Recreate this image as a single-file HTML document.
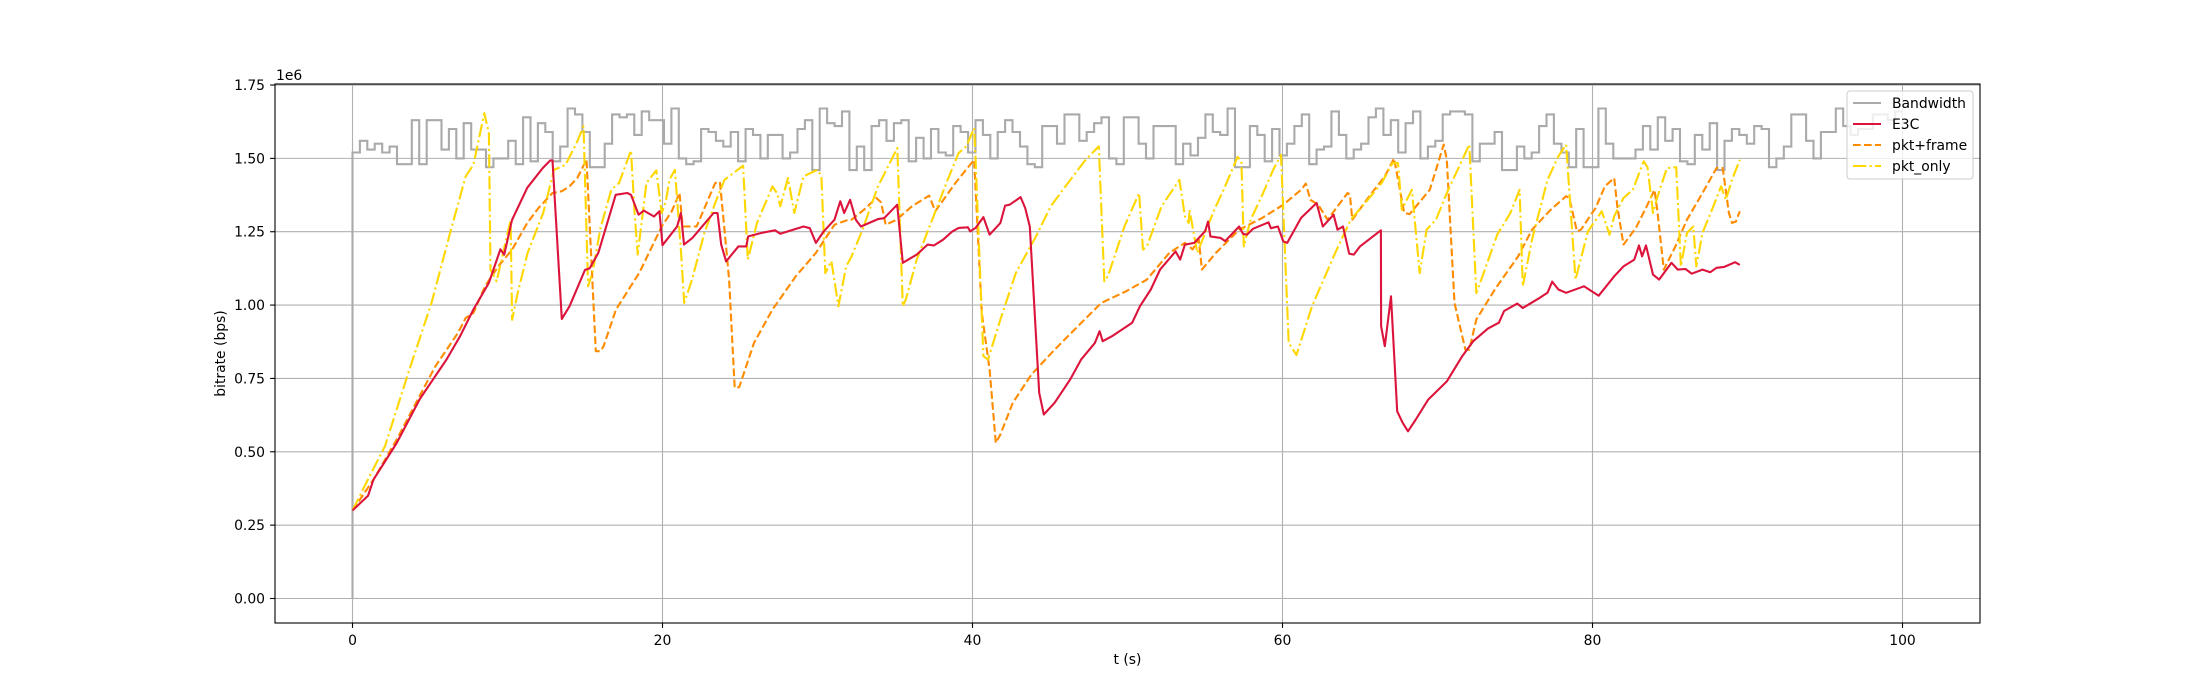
<!DOCTYPE html>
<html><head><meta charset="utf-8"><style>
html,body{margin:0;padding:0;background:#fff;}
svg{display:block;font-family:"DejaVu Sans","Liberation Sans",sans-serif;}
</style></head><body>
<svg id="chart" width="2200" height="700" viewBox="0 0 2200 700" xmlns="http://www.w3.org/2000/svg">
<rect x="0" y="0" width="2200" height="700" fill="#fff"/>
<g id="grid"></g>
<g id="series" clip-path="url(#clip)"></g>
<defs><clipPath id="clip"><rect x="275" y="84" width="1705" height="539"/></clipPath></defs>
<rect x="275" y="84" width="1705" height="539" fill="none" stroke="#000" stroke-width="1.1"/>
<g id="ticks"></g>
<text x="276" y="80" font-size="13.9">1e6</text>
<text x="1127.5" y="664" font-size="13.9" text-anchor="middle">t (s)</text>
<text transform="translate(225,353.5) rotate(-90)" font-size="13.9" text-anchor="middle">bitrate (bps)</text>
<g>
<rect x="1847" y="91" width="126" height="88" rx="3" fill="#fff" fill-opacity="0.8" stroke="#ccc" stroke-width="1"/>
<line x1="1853" y1="103" x2="1881" y2="103" stroke="#aaaaaa" stroke-width="2.1"/>
<text x="1892" y="108" font-size="13.9">Bandwidth</text>
<line x1="1853" y1="124" x2="1881" y2="124" stroke="#dc143c" stroke-width="2.1"/>
<text x="1892" y="129" font-size="13.9">E3C</text>
<line x1="1853" y1="145" x2="1881" y2="145" stroke="#ff8c00" stroke-width="2.1" stroke-dasharray="7.7 3.3"/>
<text x="1892" y="150" font-size="13.9">pkt+frame</text>
<line x1="1853" y1="166" x2="1881" y2="166" stroke="#ffd700" stroke-width="2.1" stroke-dasharray="13.3 3.3 2.1 3.3"/>
<text x="1892" y="171" font-size="13.9">pkt_only</text>
</g>
</svg>
<script>
const xTicks = [0, 20, 40, 60, 80, 100];
const yTicks = [0, 0.25, 0.5, 0.75, 1.0, 1.25, 1.5, 1.75];
const yTickLabels = ["0.00","0.25","0.50","0.75","1.00","1.25","1.50","1.75"];
const bwEnd = 100;
const bwValues = [1.52,1.56,1.53,1.55,1.52,1.54,1.48,1.48,1.63,1.48,1.63,1.63,1.53,1.60,1.50,1.62,1.53,1.53,1.47,1.50,1.50,1.56,1.48,1.64,1.49,1.62,1.59,1.49,1.54,1.67,1.65,1.59,1.47,1.47,1.55,1.65,1.64,1.65,1.58,1.66,1.63,1.63,1.55,1.67,1.50,1.48,1.49,1.60,1.59,1.56,1.54,1.59,1.49,1.60,1.58,1.50,1.58,1.58,1.50,1.52,1.60,1.63,1.46,1.67,1.62,1.61,1.66,1.46,1.54,
1.46,1.61,1.63,1.56,1.62,1.63,1.49,1.57,1.50,1.60,1.52,1.51,1.61,1.59,1.52,1.63,1.58,1.50,1.59,1.63,1.59,1.54,1.48,1.47,1.61,1.61,1.55,1.65,1.65,1.56,1.59,1.62,1.64,1.50,1.48,1.64,1.64,1.55,1.50,1.61,1.61,1.61,1.48,1.55,1.51,1.57,1.65,1.59,1.58,1.67,1.47,1.47,1.61,1.58,1.49,1.60,1.51,1.55,1.61,1.65,1.48,1.53,1.54,1.66,1.58,1.50,1.53,1.55,1.64,1.67,1.58,1.63,1.52,1.62,1.66,1.50,1.54,1.56,
1.65,1.66,1.66,1.65,1.49,1.55,1.55,1.59,1.46,1.46,1.54,1.50,1.52,1.61,1.65,1.55,1.52,1.47,1.60,1.47,1.47,1.67,1.55,1.50,1.50,1.50,1.53,1.61,1.53,1.64,1.56,1.60,1.49,1.48,1.58,1.53,1.62,1.46,1.56,1.60,1.58,1.55,1.61,1.60,1.47,1.50,1.54,1.65,1.65,1.56,1.50,1.59,1.59,1.67,1.61,
1.58,1.60,1.60,1.65,1.65,1.63,1.66];
const e3cT = [0,1,1.36,2.85,4.34,6.07,6.94,7.8,8.8,9.54,9.79,10.29,11.28,12.27,12.76,12.9,13.5,14.0,15.0,15.3,15.86,16.98,17.72,17.97,18.46,18.8,19.45,19.8,20.0,20.94,21.19,21.39,21.93,23.3,23.55,23.79,24.1,24.9,25.4,25.53,26.4,27.26,27.6,29.1,29.5,29.9,30.4,31.1,31.47,31.72,32.1,32.47,32.8,33.9,34.3,35.14,35.5,36.4,37.1,37.5,38.1,38.7,39.1,39.7,39.85,40.2,40.7,41.1,41.8,42.1,42.4,43.1,43.4,43.7,44.3,44.6,45.3,46.3,47.0,47.9,48.2,48.4,49.0,50.3,50.8,51.5,52.1,53.1,53.4,53.7,54.3,55.0,55.2,55.35,56.0,56.3,57.2,57.45,57.7,58.1,59.1,59.25,59.7,60.05,60.3,61.2,62.2,62.6,63.3,63.55,63.9,64.3,64.6,65.0,66.35,66.36,66.6,67.0,67.4,67.75,68.1,68.6,69.4,70.6,71.6,72.3,73.25,73.96,74.3,75.15,75.5,76.6,77.1,77.4,77.8,78.3,79.45,80.4,81.4,82.0,82.7,83.0,83.2,83.45,83.9,84.3,85.1,85.5,86.0,86.4,87.1,87.6,88.0,88.5,89.2,89.5];
const e3cV = [0.30,0.35,0.406,0.53,0.68,0.815,0.894,0.985,1.076,1.19,1.172,1.29,1.40,1.467,1.493,1.493,0.953,0.996,1.12,1.125,1.178,1.376,1.382,1.376,1.308,1.322,1.302,1.32,1.204,1.268,1.314,1.206,1.229,1.314,1.314,1.206,1.149,1.2,1.2,1.234,1.246,1.255,1.243,1.268,1.262,1.212,1.251,1.291,1.354,1.314,1.359,1.291,1.268,1.293,1.296,1.342,1.144,1.172,1.206,1.203,1.223,1.251,1.263,1.265,1.251,1.263,1.3,1.24,1.28,1.339,1.342,1.368,1.331,1.268,0.701,0.627,0.667,0.746,0.814,0.871,0.911,0.877,0.894,0.94,0.996,1.053,1.121,1.183,1.155,1.206,1.212,1.251,1.285,1.234,1.229,1.218,1.268,1.243,1.24,1.26,1.282,1.262,1.268,1.217,1.212,1.297,1.348,1.268,1.308,1.257,1.268,1.175,1.172,1.2,1.255,0.928,0.86,1.03,0.638,0.599,0.57,0.61,0.678,0.74,0.826,0.877,0.92,0.94,0.98,1.005,0.99,1.025,1.042,1.08,1.053,1.042,1.064,1.032,1.098,1.132,1.155,1.203,1.166,1.203,1.104,1.087,1.144,1.121,1.123,1.107,1.121,1.112,1.127,1.13,1.146,1.137];
const pfT = [0,1.36,2.85,5.33,6.8,7.3,7.8,8.55,9.4,10.3,11.28,12.0,12.9,13.5,14.0,14.5,15.1,15.7,16.0,16.2,17.0,18.5,19.95,20.6,21.1,21.3,22.2,23.4,23.7,24.0,24.3,24.66,24.95,25.9,27.1,28.6,29.9,31.1,32.0,32.2,33.0,33.8,34.1,34.4,35.1,36.1,37.2,37.6,38.9,40.1,40.6,41.1,41.5,41.8,42.6,43.8,45.3,46.8,48.3,49.9,51.25,52.7,53.7,54.2,54.6,54.8,55.7,57.2,58.7,60.05,61.2,61.5,61.8,62.3,62.9,64.2,64.35,64.5,65.6,66.6,67.2,67.85,68.2,69.5,70.4,70.6,71.1,71.8,72.05,72.5,73.7,75.2,76.1,77.3,78.3,78.5,79.0,79.25,80.2,80.8,81.4,81.6,82.0,82.8,83.5,84.0,84.2,84.6,85.3,86.1,87.1,88.0,88.4,88.8,89.0,89.25,89.5];
const pfV = [0.30,0.406,0.542,0.79,0.905,0.956,0.973,1.064,1.132,1.189,1.28,1.331,1.382,1.388,1.405,1.433,1.496,0.843,0.843,0.86,0.985,1.11,1.268,1.32,1.382,1.268,1.268,1.416,1.42,1.257,1.087,0.718,0.72,0.871,0.985,1.098,1.178,1.274,1.291,1.291,1.325,1.365,1.35,1.274,1.291,1.337,1.373,1.32,1.416,1.495,0.973,0.78,0.53,0.559,0.667,0.763,0.848,0.928,1.007,1.047,1.087,1.178,1.212,1.19,1.223,1.121,1.178,1.257,1.297,1.342,1.393,1.414,1.359,1.342,1.291,1.382,1.376,1.291,1.371,1.439,1.5,1.314,1.31,1.393,1.547,1.496,1.007,0.848,0.848,0.951,1.053,1.166,1.257,1.325,1.371,1.365,1.251,1.257,1.331,1.405,1.433,1.337,1.206,1.263,1.337,1.393,1.314,1.121,1.195,1.291,1.382,1.467,1.467,1.314,1.28,1.285,1.32];
const poT = [0,1.0,2.1,3.6,5.1,6.3,7.3,7.8,8.5,8.8,8.9,9.3,10.2,10.3,10.65,11.3,12.3,13.0,13.75,14.5,14.9,15.2,15.5,16.0,16.7,17.2,17.97,18.2,18.4,18.96,19.6,19.95,20.2,20.45,20.8,21.2,21.4,21.9,22.7,23.4,24.0,25.2,25.5,26.1,27.1,27.4,27.6,28.1,28.5,29.1,30.0,30.25,30.5,30.9,31.35,31.85,32.2,32.9,33.9,35.15,35.5,35.7,36.4,37.4,38.4,39.1,39.6,40.1,40.2,40.7,41.0,41.8,42.8,44.1,45.05,46.0,47.3,48.15,48.5,48.75,49.8,50.75,51.0,51.25,52.2,53.35,53.7,53.95,54.0,54.5,55.6,56.2,57.1,57.35,57.5,57.95,58.7,59.4,59.9,60.4,60.9,61.9,63.4,64.4,65.5,66.4,67.1,67.45,67.7,68.35,68.85,69.3,69.9,70.6,71.3,72.05,72.5,72.9,73.85,74.7,75.3,75.5,76.1,77.1,77.8,78.3,78.9,79.7,80.6,81.1,81.4,82.0,82.6,83.3,83.55,83.9,84.2,84.8,85.4,85.7,86.1,86.5,86.7,87.1,87.8,88.3,88.6,89.0,89.5];
const poV = [0.30,0.406,0.52,0.769,1.007,1.246,1.439,1.478,1.654,1.586,1.121,1.081,1.29,0.95,1.04,1.178,1.314,1.461,1.478,1.558,1.609,1.064,1.115,1.263,1.393,1.416,1.527,1.314,1.172,1.416,1.459,1.314,1.35,1.427,1.461,1.178,1.007,1.087,1.246,1.348,1.427,1.475,1.155,1.28,1.405,1.38,1.337,1.433,1.314,1.439,1.461,1.44,1.109,1.15,0.996,1.132,1.166,1.257,1.405,1.535,0.996,1.02,1.155,1.291,1.427,1.518,1.541,1.603,1.495,0.826,0.814,0.951,1.11,1.234,1.337,1.405,1.495,1.541,1.081,1.1,1.268,1.382,1.189,1.2,1.337,1.427,1.303,1.28,1.325,1.178,1.325,1.393,1.505,1.49,1.2,1.291,1.376,1.461,1.512,0.871,0.83,0.996,1.178,1.291,1.359,1.416,1.484,1.484,1.325,1.393,1.109,1.257,1.291,1.382,1.461,1.547,1.041,1.098,1.24,1.314,1.393,1.064,1.223,1.427,1.507,1.547,1.087,1.251,1.32,1.24,1.303,1.365,1.393,1.49,1.47,1.314,1.371,1.467,1.47,1.132,1.246,1.268,1.132,1.246,1.337,1.405,1.359,1.427,1.495];

const NS = "http://www.w3.org/2000/svg";
const L = 275, R = 1980, T = 84, B = 623;
const xMin = -5, xMax = 105, yMin = -0.0835, yMax = 1.7535;
function X(t){ return L + (t - xMin) / (xMax - xMin) * (R - L); }
function Y(v){ return B - (v - yMin) / (yMax - yMin) * (B - T); }
function mk(tag, attrs, parent){
  const el = document.createElementNS(NS, tag);
  for (const k in attrs) el.setAttribute(k, attrs[k]);
  parent.appendChild(el);
  return el;
}
const grid = document.getElementById('grid');
const ticks = document.getElementById('ticks');
const series = document.getElementById('series');

xTicks.forEach(function(t){
  const g = mk('line', {x1: X(t), x2: X(t), y1: T, y2: B, stroke: '#b0b0b0', 'stroke-width': 1.1}, grid);
  
  
  const tk = mk('line', {x1: X(t), x2: X(t), y1: B, y2: B + 4.9, stroke: '#000', 'stroke-width': 1.1}, ticks);
  
  
  const lb = mk('text', {x: X(t), y: B + 22, 'font-size': 13.9, 'text-anchor': 'middle'}, ticks);
  lb.textContent = String(t);
  
  
});
yTicks.forEach(function(v, i){
  const g = mk('line', {x1: L, x2: R, y1: Y(v), y2: Y(v), stroke: '#b0b0b0', 'stroke-width': 1.1}, grid);
  
  
  const tk = mk('line', {x1: L - 4.9, x2: L, y1: Y(v), y2: Y(v), stroke: '#000', 'stroke-width': 1.1}, ticks);
  
  
  const lb = mk('text', {x: L - 10, y: Y(v) + 5, 'font-size': 13.9, 'text-anchor': 'end'}, ticks);
  lb.textContent = yTickLabels[i];
  
  
});

// bandwidth step line
const step = bwEnd / bwValues.length;
let bwPts = [[X(0), Y(0)]];
bwValues.forEach(function(v, i){
  bwPts.push([X(i * step), Y(v)]);
  bwPts.push([X((i + 1) * step), Y(v)]);
});
const bwLine = mk('polyline', {points: bwPts.map(p => p[0].toFixed(1) + ',' + p[1].toFixed(1)).join(' '), fill: 'none', stroke: '#aaaaaa', 'stroke-width': 2.1}, series);



function line(ts, vs, color, dash, name){
  const pts = ts.map((t, i) => X(t).toFixed(1) + ',' + Y(vs[i]).toFixed(1)).join(' ');
  const attrs = {points: pts, fill: 'none', stroke: color, 'stroke-width': 2.1, 'stroke-linejoin': 'round'};
  if (dash) attrs['stroke-dasharray'] = dash;
  const el = mk('polyline', attrs, series);
  
  
}
line(pfT, pfV, '#ff8c00', '7.7 3.3', 'pkt-frame-line');
line(poT, poV, '#ffd700', '13.3 3.3 2.1 3.3', 'pkt-only-line');
line(e3cT, e3cV, '#dc143c', null, 'e3c-line');
</script>
</body></html>
